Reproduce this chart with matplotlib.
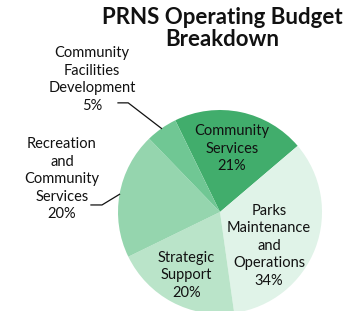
import numpy as np
import matplotlib
matplotlib.use("Agg")
import matplotlib.pyplot as plt

plt.rcParams['font.family'] = ['Lato', 'DejaVu Sans']

categories = ["Community\nServices", "Parks\nMaintenance\nand\nOperations", "Strategic\nSupport",
              "Recreation\nand\nCommunity\nServices", "Community\nFacilities\nDevelopment"]
values = [21, 34, 20, 20, 5]
colors = ["#41ad6c", "#e0f3e8", "#bae4c9", "#95d5ae", "#70c794"]
title = "PRNS Operating Budget\nBreakdown"

W, H = 349, 311
fig = plt.figure(figsize=(W / 100, H / 100), dpi=100)
ax = fig.add_axes([0, 0, 1, 1])

wedges, _ = ax.pie(values, colors=colors, startangle=116, counterclock=False,
                   wedgeprops=dict(linewidth=0))
cx, cy, R = 220, 212, 102
ax.set_xlim((0 - cx) / R, (W - cx) / R)
ax.set_ylim((cy - H) / R, cy / R)
ax.set_aspect('auto')
ax.axis('off')

def lab(i):
    return f"{categories[i]}\n{values[i]}%"

fs = 10.5
ls = 1.32
tc = '#111111'
# inside labels
ax.text(0.118, 0.62, lab(0), ha='center', va='center', fontsize=fs, linespacing=ls, color=tc)
ax.text(0.48, -0.33, lab(1), ha='center', va='center', fontsize=fs, linespacing=ls, color=tc)
ax.text(-0.33, -0.62, lab(2), ha='center', va='center', fontsize=fs, linespacing=ls, color=tc)
# outside labels
ax.text(-1.55, 0.32, lab(3), ha='center', va='center', fontsize=fs, linespacing=ls, color=tc)
ax.text(-1.255, 1.30, lab(4), ha='center', va='center', fontsize=fs, linespacing=ls, color=tc)

# leader lines
def mid_angle(w):
    return np.deg2rad((w.theta1 + w.theta2) / 2)

a = mid_angle(wedges[4])
ax.plot([-1.0, -0.90, np.cos(a)], [1.07, 1.07, np.sin(a)], color=tc, lw=0.9)
a = mid_angle(wedges[3])
ax.plot([-1.265, -1.157, np.cos(a)], [0.069, 0.069, np.sin(a)], color=tc, lw=0.9)

ax.text(0.02, 1.80, title, ha='center', va='center', fontsize=16, fontweight='bold',
        linespacing=1.08, color=tc)

fig.savefig("out.png", dpi=100)
